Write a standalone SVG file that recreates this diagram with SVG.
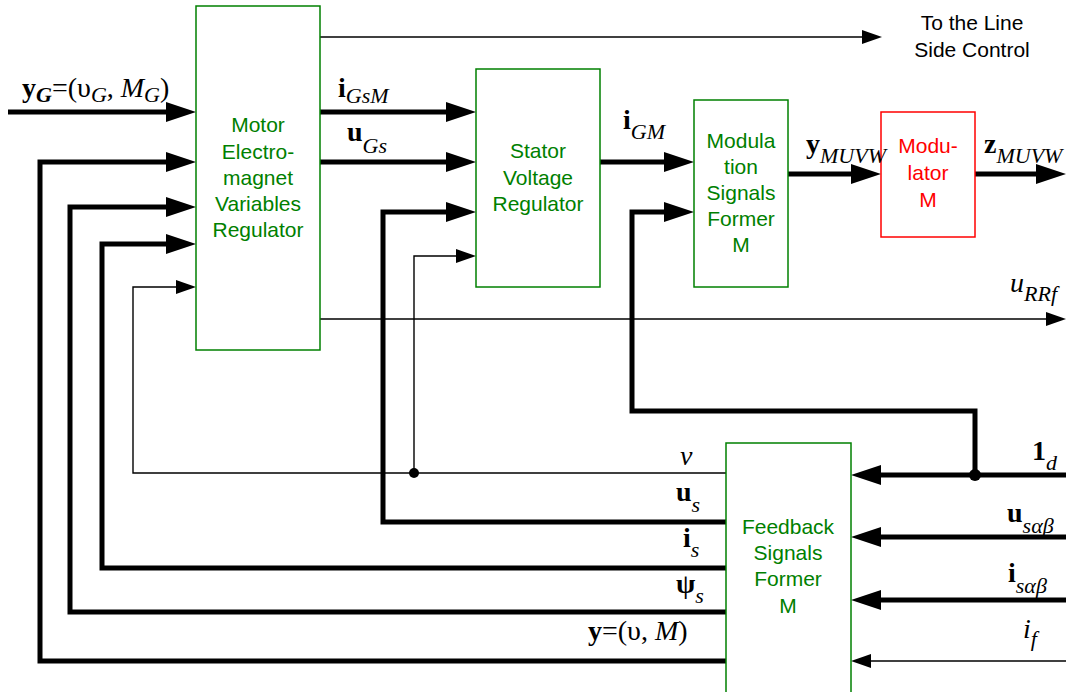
<svg xmlns="http://www.w3.org/2000/svg" width="1066" height="692" viewBox="0 0 1066 692">
<style>
.box{fill:#fff;stroke:#008000;stroke-width:1.5}
.rbox{fill:#fff;stroke:#ff0000;stroke-width:1.5}
.bt{font-family:"Liberation Sans",Arial,sans-serif;font-size:21px;fill:#008000;text-anchor:middle}
.rt{font-family:"Liberation Sans",Arial,sans-serif;font-size:21px;fill:#ff0000;text-anchor:middle}
.nt{font-family:"Liberation Sans",Arial,sans-serif;font-size:21px;fill:#000;text-anchor:middle}
.thick{fill:none;stroke:#000;stroke-width:5;stroke-linejoin:miter;stroke-linecap:butt}
.thin{fill:none;stroke:#000;stroke-width:1.4;stroke-linejoin:miter}
.m{font-family:"Liberation Serif","Times New Roman",serif;font-size:28px;fill:#000}
.b{font-weight:bold}
.i{font-style:italic}
.s{font-size:22px;font-style:italic}
</style>
<defs>
<marker id="ah" markerUnits="userSpaceOnUse" markerWidth="30" markerHeight="20" viewBox="0 0 30 20" refX="0" refY="10" orient="auto"><path d="M0,0 L30,10 L0,20 z" fill="#000"/></marker>
<marker id="at" markerUnits="userSpaceOnUse" markerWidth="20" markerHeight="14" viewBox="0 0 20 14" refX="0" refY="7" orient="auto"><path d="M0,0 L20,7 L0,14 z" fill="#000"/></marker>
</defs>
<rect width="1066" height="692" fill="#fff"/>

<g id="connectors">
<path class="thick" d="M8,112 H166" marker-end="url(#ah)"/>
<path class="thick" d="M726,661 H40 V162 H166" marker-end="url(#ah)"/>
<path class="thick" d="M726,612 H70 V207 H166" marker-end="url(#ah)"/>
<path class="thick" d="M726,568 H102 V244 H166" marker-end="url(#ah)"/>
<path class="thin" d="M726,473 H133 V287 H176" marker-end="url(#at)"/>
<path class="thin" d="M414,473 V256 H456" marker-end="url(#at)"/>
<path class="thick" d="M726,522 H383 V212 H446" marker-end="url(#ah)"/>
<path class="thick" d="M975,475 V411 H632 V212 H664" marker-end="url(#ah)"/>
<path class="thick" d="M1066,475 H881" marker-end="url(#ah)"/>
<path class="thick" d="M1066,537 H881" marker-end="url(#ah)"/>
<path class="thick" d="M1066,600 H881" marker-end="url(#ah)"/>
<path class="thin" d="M1066,661 H871" marker-end="url(#at)"/>
<path class="thin" d="M320,37 H862" marker-end="url(#at)"/>
<path class="thick" d="M320,112 H446" marker-end="url(#ah)"/>
<path class="thick" d="M320,162 H446" marker-end="url(#ah)"/>
<path class="thick" d="M600,162 H664" marker-end="url(#ah)"/>
<path class="thick" d="M788,174 H851" marker-end="url(#ah)"/>
<path class="thick" d="M975,174 H1036" marker-end="url(#ah)"/>
<path class="thin" d="M320,319 H1046" marker-end="url(#at)"/>
<circle cx="414" cy="473" r="5" fill="#000"/>
<circle cx="975" cy="475" r="6" fill="#000"/>
</g>

<g id="mevr">
<rect class="box" x="196" y="6" width="124" height="344"/>
<text class="bt" x="258" y="132">Motor</text>
<text class="bt" x="258" y="159">Electro-</text>
<text class="bt" x="258" y="185">magnet</text>
<text class="bt" x="258" y="211">Variables</text>
<text class="bt" x="258" y="237">Regulator</text>
</g>

<g id="svr">
<rect class="box" x="476" y="69" width="124" height="218"/>
<text class="bt" x="538" y="158">Stator</text>
<text class="bt" x="538" y="185">Voltage</text>
<text class="bt" x="538" y="211">Regulator</text>
</g>

<g id="msf">
<rect class="box" x="694" y="100" width="94" height="187"/>
<text class="bt" x="741" y="148">Modula</text>
<text class="bt" x="741" y="174">tion</text>
<text class="bt" x="741" y="200">Signals</text>
<text class="bt" x="741" y="226">Former</text>
<text class="bt" x="741" y="252">M</text>
</g>

<g id="modulator">
<rect class="rbox" x="881" y="112" width="94" height="125"/>
<text class="rt" x="928" y="153">Modu-</text>
<text class="rt" x="928" y="180">lator</text>
<text class="rt" x="928" y="207">M</text>
</g>

<g id="fsf">
<rect class="box" x="726" y="443" width="125" height="260"/>
<text class="bt" x="788" y="534">Feedback</text>
<text class="bt" x="788" y="560">Signals</text>
<text class="bt" x="788" y="586">Former</text>
<text class="bt" x="788" y="613">M</text>
</g>

<g id="line-side">
<text class="nt" x="972" y="30">To the Line</text>
<text class="nt" x="972" y="57">Side Control</text>
</g>

<g id="labels">
<text class="m" x="22" y="97"><tspan class="b">y</tspan><tspan class="s b" y="102">G</tspan><tspan y="97">=(υ</tspan><tspan class="s" y="102">G</tspan><tspan y="97">, </tspan><tspan class="i">M</tspan><tspan class="s" y="102">G</tspan><tspan y="97">)</tspan></text>
<text class="m" x="338" y="97"><tspan class="b">i</tspan><tspan class="s" y="103">GsM</tspan></text>
<text class="m" x="347" y="141"><tspan class="b">u</tspan><tspan class="s" y="153">Gs</tspan></text>
<text class="m" x="623" y="129"><tspan class="b">i</tspan><tspan class="s" y="139">GM</tspan></text>
<text class="m" x="806" y="153"><tspan class="b">y</tspan><tspan class="s" y="163">MUVW</tspan></text>
<text class="m" x="984" y="153"><tspan class="b">z</tspan><tspan class="s" y="163">MUVW</tspan></text>
<text class="m" x="1010" y="292"><tspan class="i">u</tspan><tspan class="s" y="301">RRf</tspan></text>
<text class="m i" x="680" y="465">v</text>
<text class="m" x="676" y="501"><tspan class="b">u</tspan><tspan class="s" y="512">s</tspan></text>
<text class="m" x="683" y="547"><tspan class="b">i</tspan><tspan class="s" y="557">s</tspan></text>
<text class="m" x="676" y="593"><tspan class="b">ψ</tspan><tspan class="s" y="603">s</tspan></text>
<text class="m" x="588" y="640"><tspan class="b">y</tspan><tspan>=(υ, </tspan><tspan class="i">M</tspan><tspan>)</tspan></text>
<text class="m" x="1032" y="460"><tspan class="b">1</tspan><tspan class="s" y="470">d</tspan></text>
<text class="m" x="1007" y="522"><tspan class="b">u</tspan><tspan class="s" y="533">sαβ</tspan></text>
<text class="m" x="1008" y="582"><tspan class="b">i</tspan><tspan class="s" y="593">sαβ</tspan></text>
<text class="m" x="1023" y="638"><tspan class="i">i</tspan><tspan class="s" y="646">f</tspan></text>
</g>
</svg>
